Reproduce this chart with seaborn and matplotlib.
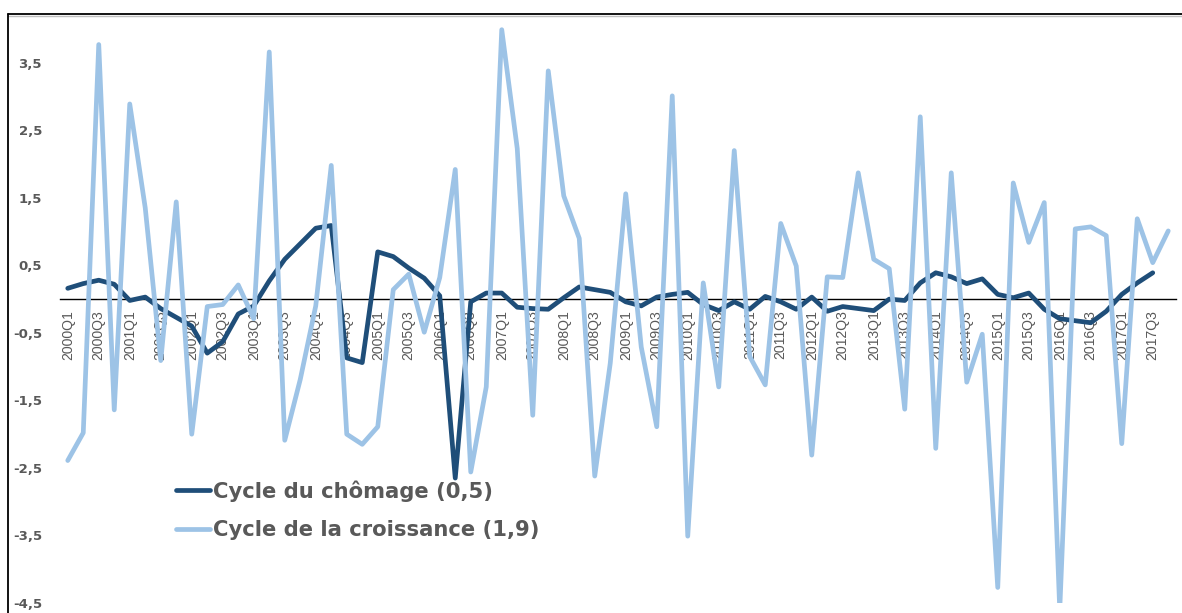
import numpy as np
import pandas as pd
import matplotlib
matplotlib.use("Agg")
import matplotlib.pyplot as plt
from matplotlib.lines import Line2D
import seaborn as sns

# trimestres 2000Q1 .. 2017Q4
quarters = [f"{y}Q{q}" for y in range(2000, 2018) for q in range(1, 5)]

# cycle du chomage (s'arrete en 2017Q3)
chomage = [0.16, 0.23, 0.28, 0.22, -0.02, 0.03, -0.14, -0.27, -0.40, -0.80,
           -0.63, -0.22, -0.10, 0.27, 0.59, 0.82, 1.05, 1.09, -0.87, -0.94,
           0.70, 0.63, 0.46, 0.31, 0.05, -2.65, -0.04, 0.09, 0.09, -0.12,
           -0.14, -0.15, 0.02, 0.18, 0.14, 0.10, -0.04, -0.10, 0.03, 0.07,
           0.10, -0.08, -0.17, -0.04, -0.15, 0.04, -0.04, -0.15, 0.03, -0.18,
           -0.11, -0.14, -0.17, 0.00, -0.02, 0.24, 0.39, 0.33, 0.23, 0.30,
           0.07, 0.02, 0.09, -0.15, -0.29, -0.32, -0.35, -0.18, 0.07, 0.24,
           0.39]

# cycle de la croissance
croissance = [-2.39, -1.98, 3.77, -1.64, 2.89, 1.35, -0.91, 1.44, -2.00, -0.11,
              -0.08, 0.21, -0.29, 3.66, -2.09, -1.19, -0.10, 1.98, -2.00, -2.15,
              -1.89, 0.14, 0.37, -0.49, 0.32, 1.92, -2.56, -1.30, 3.99, 2.23,
              -1.72, 3.38, 1.53, 0.90, -2.62, -0.95, 1.56, -0.71, -1.89, 3.01,
              -3.51, 0.24, -1.30, 2.20, -0.85, -1.27, 1.12, 0.49, -2.31, 0.33,
              0.32, 1.87, 0.59, 0.45, -1.63, 2.70, -2.21, 1.87, -1.23, -0.52,
              -4.27, 1.72, 0.84, 1.43, -4.60, 1.04, 1.07, 0.94, -2.14, 1.19,
              0.54, 1.01]

yticks = [3.5, 2.5, 1.5, 0.5, -0.5, -1.5, -2.5, -3.5, -4.5]
ytick_labels = ["3,5", "2,5", "1,5", "0,5", "-0,5", "-1,5", "-2,5", "-3,5", "-4,5"]

lab_chom = "Cycle du chômage (0,5)"
lab_crois = "Cycle de la croissance (1,9)"

df = pd.concat([
    pd.DataFrame({"x": np.arange(len(chomage)), "valeur": chomage, "serie": lab_chom}),
    pd.DataFrame({"x": np.arange(len(croissance)), "valeur": croissance, "serie": lab_crois}),
])

sns.set_style("white")
W, H = 1182, 613
fig = plt.figure(figsize=(W / 100, H / 100), dpi=100)
ax = fig.add_axes([60 / W, 1 - 603 / H, (1176 - 60) / W, (603 - 14) / H])

sns.lineplot(data=df, x="x", y="valeur", hue="serie",
             palette={lab_chom: "#1F4E79", lab_crois: "#9DC3E6"},
             hue_order=[lab_chom, lab_crois],
             linewidth=3.4, solid_capstyle="round", solid_joinstyle="round",
             sort=False, ax=ax)

ax.set_xlim(-0.5, 71.5)
ax.set_ylim(-4.5, (299 - 14) / 67.5)
ax.set_xlabel("")
ax.set_ylabel("")

# axe horizontal sur zero
for s in ["top", "right", "left"]:
    ax.spines[s].set_visible(False)
ax.spines["bottom"].set_position(("data", 0))
ax.spines["bottom"].set_color("black")
ax.spines["bottom"].set_linewidth(1.0)
ax.spines["bottom"].set_zorder(1)

ax.set_xticks(range(0, 72, 2))
ax.set_xticklabels(quarters[::2], rotation=90, color="#595959", fontsize=10.1,
                   family=["Liberation Sans", "DejaVu Sans"])
ax.tick_params(axis="x", length=0, pad=8)

ax.set_yticks(yticks)
ax.set_yticklabels(ytick_labels, fontweight="bold", color="#595959", fontsize=9.5)
ax.tick_params(axis="y", length=0, pad=13)

handles, labels = ax.get_legend_handles_labels()
ax.legend(handles, labels, loc="upper left",
          bbox_to_anchor=(176 / W, 1 - 480 / H), bbox_transform=fig.transFigure,
          frameon=False, prop=dict(weight="bold", size=15.2), labelcolor="#595959",
          handlelength=1.6, handletextpad=0.15, labelspacing=0.9,
          borderpad=0, borderaxespad=0)

# cadre du graphique
fig.add_artist(Line2D([8 / W, 1], [1 - 14 / H, 1 - 14 / H], color="black", lw=1.3,
                      transform=fig.transFigure))
fig.add_artist(Line2D([8 / W, 1], [1 - 15.5 / H, 1 - 15.5 / H], color="#bfbfbf", lw=1,
                      transform=fig.transFigure))
fig.add_artist(Line2D([8 / W, 8 / W], [0, 1 - 14 / H], color="black", lw=1.3,
                      transform=fig.transFigure))

fig.savefig("out.png", dpi=100)
